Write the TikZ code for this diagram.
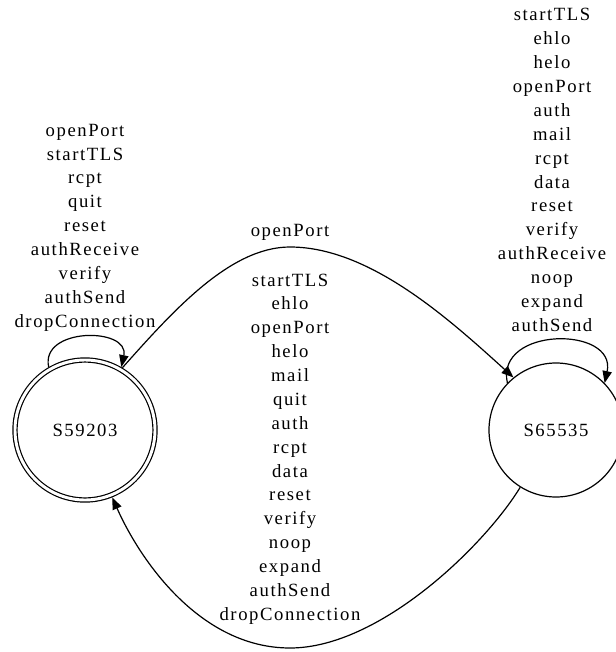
\documentclass[tikz,border=0pt]{standalone}
\usepackage{fontspec}
\setmainfont{Liberation Serif}[LetterSpace=8.5]
\usetikzlibrary{arrows.meta,positioning}
\tikzset{
  st/.style  ={draw,circle,inner sep=0pt,line width=0.9pt},
  acc/.style ={st,double,double distance=2.2pt,outer sep=2pt},
  lbl/.style ={align=center,inner sep=0pt},
  tr/.style  ={-{Triangle[length=9pt,width=7pt]},line width=0.9pt},
}
\begin{document}
\begin{tikzpicture}[x=0.75pt,y=0.75pt,font=\fontsize{14}{17.9}\selectfont]
\useasboundingbox (0,0) rectangle (616,-652);
\node[acc,minimum size=105pt] (s59203) at (85,-430) {S59203};
\node[st,minimum size=100.5pt] (s65535) at (556,-430) {S65535};

% self loops
\draw[tr] (s59203.120) .. controls (40,-327) and (130,-327) .. (s59203.60);
\draw[tr] (s65535.136) .. controls (495,-326) and (617,-326) .. (s65535.44);
\node[lbl] (loopA) at (85,-227.5)
  {openPort\\startTLS\\rcpt\\quit\\reset\\authReceive\\verify\\authSend\\dropConnection};
\node[lbl] (loopB) at (552,-170)
  {startTLS\\ehlo\\helo\\openPort\\auth\\mail\\rcpt\\data\\reset\\verify\\
   authReceive\\noop\\expand\\authSend};

% between the states
\draw[tr] (s59203.59) .. controls (173,-311) and (230,-247) .. (290,-247)
  .. controls (370,-247) and (450,-320) .. (s65535.129);
\node[lbl] (fwd) at (290,-232) {openPort};
\draw[tr] (s65535.238) .. controls (485,-545) and (380,-648) .. (290,-648)
  .. controls (200,-648) and (140,-560) .. (s59203.292);
\node[lbl] (back) at (290,-449)
  {startTLS\\ehlo\\openPort\\helo\\mail\\quit\\auth\\rcpt\\data\\reset\\
   verify\\noop\\expand\\authSend\\dropConnection};
\end{tikzpicture}
\end{document}
